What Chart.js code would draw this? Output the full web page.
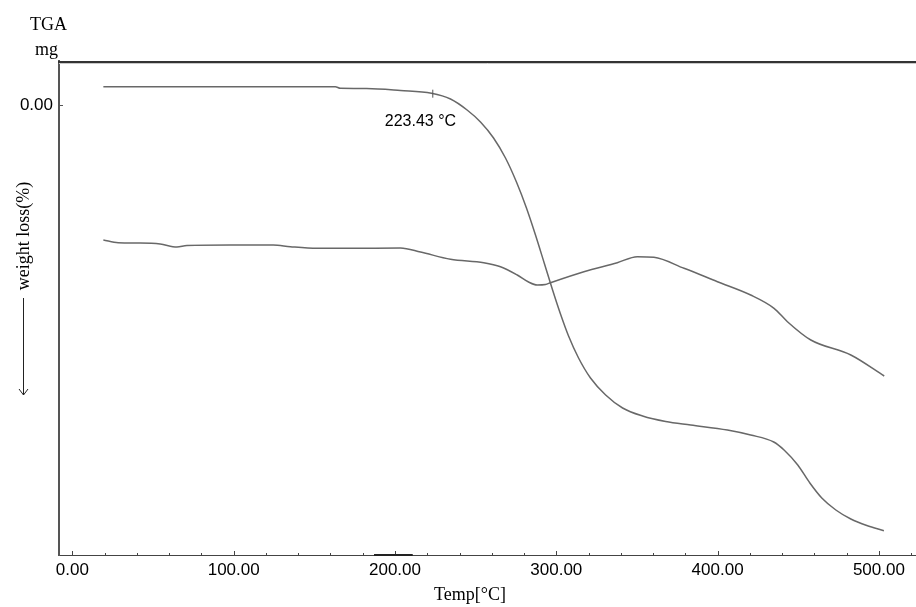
<!DOCTYPE html>
<html>
<head>
<meta charset="utf-8">
<script src="https://cdn.jsdelivr.net/npm/chart.js@4.4.1/dist/chart.umd.min.js"></script>
<style>
  html, body { margin: 0; padding: 0; background: #fff; }
  #wrap { width: 916px; height: 607px; position: relative; }
</style>
</head>
<body>
<div id="wrap"><canvas id="tgaChart"></canvas></div>
<script>
// --- data (temperature in °C, mass signal in mg) ---
const tgaTemp = [19.2, 79.2, 163.0, 166.1, 182.3, 203.4, 222.6, 234.4, 244.7, 253.0, 261.1, 268.5, 275.3, 281.5,
  287.1, 292.7, 297.7, 302.6, 307.6, 313.8, 321.2, 330.6, 341.1, 353.5, 367.8, 383.3, 406.1, 420.5, 434.8,
  441.2, 449.7, 457.2, 464.6, 473.3, 482.6, 492.5, 503.1];
const tgaMass = [0.183, 0.183, 0.183, 0.167, 0.165, 0.145, 0.117, 0.06, -0.05, -0.17, -0.33, -0.53, -0.77, -1.03,
  -1.30, -1.59, -1.85, -2.09, -2.31, -2.53, -2.73, -2.90, -3.03, -3.11, -3.165, -3.20, -3.25, -3.30, -3.37,
  -3.45, -3.60, -3.78, -3.93, -4.05, -4.14, -4.205, -4.257];

const secondTemp = [19.2, 28.4, 42.0, 54.4, 64.8, 71.0, 97.9, 124.5, 135.1, 151.7, 172.3, 203.4, 215.8, 234.4,
  255.0, 265.4, 275.8, 282.8, 288.2, 293.3, 296.4, 317.1, 337.8, 350.2, 360.5, 379.2, 399.9, 420.5, 435.0,
  443.3, 457.8, 482.6, 503.3];
const secondMass = [-1.35, -1.377, -1.38, -1.39, -1.42, -1.405, -1.40, -1.40, -1.417, -1.433, -1.433, -1.43, -1.47, -1.543,
  -1.577, -1.617, -1.70, -1.77, -1.80, -1.795, -1.777, -1.667, -1.577, -1.517, -1.523, -1.633, -1.767, -1.90, -2.033,
  -2.167, -2.35, -2.50, -2.71];

const xTickValues = [0, 100, 200, 300, 400, 500];
const xMinorStep = 20;
const yTickValues = [0];
const onsetTemp = 223.43;

const toPoints = (xs, ys) => xs.map((x, i) => ({ x: x, y: ys[i] }));

// mass on the TGA curve at a given temperature (linear between read points)
const tgaAt = (t) => {
    for (let i = 1; i < tgaTemp.length; i++) {
        if (t <= tgaTemp[i]) {
            const f = (t - tgaTemp[i - 1]) / (tgaTemp[i] - tgaTemp[i - 1]);
            return tgaMass[i - 1] + f * (tgaMass[i] - tgaMass[i - 1]);
        }
    }
    return tgaMass[tgaMass.length - 1];
};

const decorations = {
    id: 'decorations',
    afterDraw(chart) {
        const { ctx, chartArea, scales } = chart;
        const xs = scales.x, ys = scales.y;
        ctx.save();

        // top frame line (dark with a light shadow)
        ctx.strokeStyle = '#c8c8c8';
        ctx.lineWidth = 1;
        ctx.beginPath();
        ctx.moveTo(chartArea.left, chartArea.top + 2.5);
        ctx.lineTo(chartArea.right, chartArea.top + 2.5);
        ctx.stroke();
        ctx.strokeStyle = '#333';
        ctx.lineWidth = 2;
        ctx.beginPath();
        ctx.moveTo(chartArea.left - 1, chartArea.top + 1);
        ctx.lineTo(chartArea.right, chartArea.top + 1);
        ctx.stroke();

        // inward tick marks on the temperature axis
        ctx.strokeStyle = '#444';
        ctx.lineWidth = 1;
        const last = xTickValues[xTickValues.length - 1] + xMinorStep;
        for (let v = xTickValues[0]; v <= last; v += xMinorStep) {
            const px = Math.round(xs.getPixelForValue(v)) + 0.5;
            const len = v % 100 === 0 ? 4 : 2;
            ctx.beginPath();
            ctx.moveTo(px, chartArea.bottom);
            ctx.lineTo(px, chartArea.bottom - len);
            ctx.stroke();
        }
        // darker stretch on the axis near 200
        ctx.lineWidth = 2;
        ctx.strokeStyle = '#222';
        ctx.beginPath();
        ctx.moveTo(xs.getPixelForValue(187), chartArea.bottom);
        ctx.lineTo(xs.getPixelForValue(211), chartArea.bottom);
        ctx.stroke();

        // y tick at 0.00
        ctx.lineWidth = 1;
        ctx.strokeStyle = '#555';
        const y0 = Math.round(ys.getPixelForValue(0)) + 0.5;
        ctx.beginPath();
        ctx.moveTo(chartArea.left, y0);
        ctx.lineTo(chartArea.left + 4, y0);
        ctx.stroke();

        // onset marker and label
        const mx = xs.getPixelForValue(onsetTemp);
        const my = ys.getPixelForValue(tgaAt(onsetTemp));
        ctx.strokeStyle = '#555';
        ctx.beginPath();
        ctx.moveTo(mx, my - 4);
        ctx.lineTo(mx, my + 4);
        ctx.stroke();
        ctx.fillStyle = '#000';
        ctx.font = '16px "Liberation Sans", Arial, sans-serif';
        ctx.textAlign = 'left';
        ctx.textBaseline = 'middle';
        ctx.fillText(onsetTemp.toFixed(2) + ' °C', mx - 48, my + 28);

        // axis titles
        ctx.font = '18px "Liberation Serif", "Times New Roman", serif';
        ctx.textBaseline = 'alphabetic';
        ctx.textAlign = 'left';
        ctx.fillText('TGA', 30, 30);
        ctx.fillText('mg', 35, 55);
        ctx.textAlign = 'center';
        ctx.fillText('Temp[°C]', 470, 600);

        ctx.save();
        ctx.translate(29, 236);
        ctx.rotate(-Math.PI / 2);
        ctx.fillText('weight loss(%)', 0, 0);
        ctx.restore();

        ctx.strokeStyle = '#222';
        ctx.lineWidth = 1;
        ctx.beginPath();
        ctx.moveTo(23.5, 298);
        ctx.lineTo(23.5, 395);
        ctx.moveTo(19, 389);
        ctx.lineTo(23.5, 395);
        ctx.lineTo(28, 389);
        ctx.stroke();

        ctx.restore();
    }
};

const lineStyle = {
    borderColor: '#686868',
    borderWidth: 1.5,
    pointRadius: 0,
    fill: false,
    cubicInterpolationMode: 'monotone'
};

new Chart(document.getElementById('tgaChart'), {
    type: 'line',
    data: {
        datasets: [
            Object.assign({ label: 'TGA', data: toPoints(tgaTemp, tgaMass) }, lineStyle),
            Object.assign({ label: 'second', data: toPoints(secondTemp, secondMass) }, lineStyle)
        ]
    },
    options: {
        responsive: true,
        maintainAspectRatio: false,
        animation: false,
        layout: { padding: { top: 61, right: 0, bottom: 0, left: 0 } },
        plugins: { legend: { display: false }, tooltip: { enabled: false } },
        scales: {
            x: {
                type: 'linear',
                min: -8.3,
                max: 523,
                afterBuildTicks: (scale) => { scale.ticks = xTickValues.map(v => ({ value: v })); },
                afterFit: (scale) => { scale.height = 52; },
                grid: { display: false, drawTicks: false },
                border: { display: true, color: '#444', width: 1 },
                ticks: {
                    padding: 5,
                    color: '#000',
                    font: { family: '"Liberation Sans", Arial, sans-serif', size: 17 },
                    callback: (v) => Number(v).toFixed(2)
                }
            },
            y: {
                type: 'linear',
                min: -4.5,
                max: 0.44,
                afterBuildTicks: (scale) => { scale.ticks = yTickValues.map(v => ({ value: v })); },
                afterFit: (scale) => { scale.width = 59; },
                grid: { display: false, drawTicks: false },
                border: { display: true, color: '#555', width: 2 },
                ticks: {
                    padding: 6,
                    color: '#000',
                    font: { family: '"Liberation Sans", Arial, sans-serif', size: 17 },
                    callback: (v) => Number(v).toFixed(2)
                }
            }
        }
    },
    plugins: [decorations]
});
</script>
</body>
</html>
